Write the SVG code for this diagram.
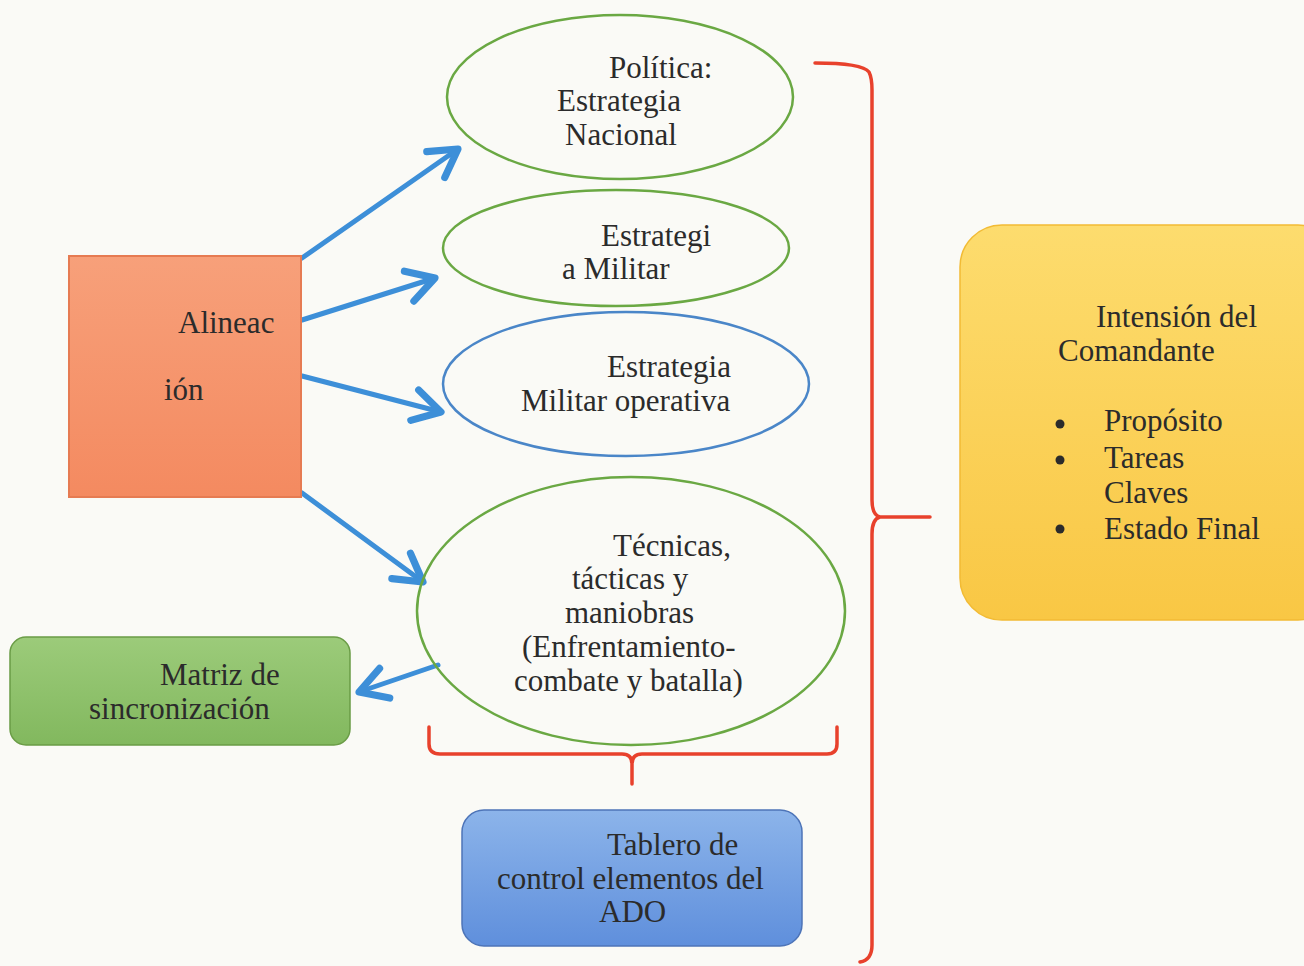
<svg xmlns="http://www.w3.org/2000/svg" width="1304" height="966" viewBox="0 0 1304 966">
<defs>
<style>
text{font-family:"Liberation Serif","Times New Roman",serif;font-size:31px;fill:#2b2b2b}
.conn{stroke:#3d8fd8;stroke-width:5;fill:none;stroke-linecap:round}
.brace{stroke:#e8412c;stroke-width:3.5;fill:none;stroke-linejoin:round;stroke-linecap:round}
</style>
<marker id="ah" markerUnits="userSpaceOnUse" markerWidth="40" markerHeight="40" viewBox="-22 -14 26 28" refX="0" refY="0" orient="auto">
<path d="M-19,-11 L0,0 L-19,11" fill="none" stroke="#3d8fd8" stroke-width="5" stroke-linecap="round" stroke-linejoin="round"/>
</marker>
<linearGradient id="gOr" x1="0" y1="0" x2="0" y2="1"><stop offset="0" stop-color="#f7a07a"/><stop offset="1" stop-color="#f48a60"/></linearGradient>
<linearGradient id="gGr" x1="0" y1="0" x2="0" y2="1"><stop offset="0" stop-color="#9ccb7a"/><stop offset="1" stop-color="#82b85e"/></linearGradient>
<linearGradient id="gBl" x1="0" y1="0" x2="0" y2="1"><stop offset="0" stop-color="#8cb4ea"/><stop offset="1" stop-color="#5f8fdc"/></linearGradient>
<linearGradient id="gYe" x1="0" y1="0" x2="0" y2="1"><stop offset="0" stop-color="#fddc6e"/><stop offset="1" stop-color="#f9c744"/></linearGradient>
</defs>
<rect x="0" y="0" width="1304" height="966" fill="#fafaf6"/>

<g id="connectors">
<line class="conn" x1="302" y1="258" x2="458" y2="149" marker-end="url(#ah)"/>
<line class="conn" x1="302" y1="320" x2="435" y2="278" marker-end="url(#ah)"/>
<line class="conn" x1="302" y1="376" x2="441" y2="412" marker-end="url(#ah)"/>
<line class="conn" x1="302" y1="493" x2="423" y2="582" marker-end="url(#ah)"/>
<line class="conn" x1="438" y1="665" x2="359" y2="692" marker-end="url(#ah)"/>
<path class="brace" d="M815,63 Q862,63 869,72 Q872,78 872,90 L872,500 Q872,515 880,517 L930,517 M880,517 Q872,519 872,534 L872,945 Q872,960 860,962"/>
<path class="brace" d="M429,727 L429,744 Q429,754 440,754 L622,754 Q632,754 632,764 L632,784 M632,764 Q632,754 642,754 L827,754 Q837,754 837,744 L837,727"/>
</g>

<g id="alineacion">
<rect x="69" y="256" width="232" height="241" fill="url(#gOr)" stroke="#e67b52" stroke-width="2"/>
<text x="178" y="333">Alineac</text>
<text x="164" y="400">ión</text>
</g>

<g id="politica">
<ellipse cx="620" cy="97" rx="173" ry="82" fill="none" stroke="#6aa843" stroke-width="2.5"/>
<text x="609" y="78">Política:</text>
<text x="557" y="111">Estrategia</text>
<text x="565" y="145">Nacional</text>
</g>

<g id="estrategia-militar">
<ellipse cx="616" cy="248" rx="173" ry="58" fill="none" stroke="#6aa843" stroke-width="2.5"/>
<text x="601" y="246">Estrategi</text>
<text x="562" y="279">a Militar</text>
</g>

<g id="militar-operativa">
<ellipse cx="626" cy="384" rx="183" ry="72" fill="none" stroke="#4a86c8" stroke-width="2.5"/>
<text x="607" y="377">Estrategia</text>
<text x="521" y="411">Militar operativa</text>
</g>

<g id="tecnicas">
<ellipse cx="631" cy="611" rx="214" ry="134" fill="none" stroke="#6aa843" stroke-width="2.5"/>
<text x="613" y="556">Técnicas,</text>
<text x="572" y="589">tácticas y</text>
<text x="565" y="623">maniobras</text>
<text x="522" y="657">(Enfrentamiento-</text>
<text x="514" y="691">combate y batalla)</text>
</g>

<g id="matriz">
<rect x="10" y="637" width="340" height="108" rx="16" fill="url(#gGr)" stroke="#6a9c46" stroke-width="1.5"/>
<text x="160" y="685">Matriz de</text>
<text x="89" y="719">sincronización</text>
</g>

<g id="tablero">
<rect x="462" y="810" width="340" height="136" rx="22" fill="url(#gBl)" stroke="#4d74b8" stroke-width="1.5"/>
<text x="607" y="855">Tablero de</text>
<text x="497" y="889">control elementos del</text>
<text x="599" y="922">ADO</text>
</g>

<g id="intension">
<rect x="960" y="225" width="380" height="395" rx="42" fill="url(#gYe)" stroke="#f2bb34" stroke-width="1.5"/>
<text x="1096" y="327">Intensión del</text>
<text x="1058" y="361">Comandante</text>
<circle cx="1060" cy="424" r="4.5" fill="#2b2b2b"/>
<circle cx="1060" cy="460" r="4.5" fill="#2b2b2b"/>
<circle cx="1060" cy="529" r="4.5" fill="#2b2b2b"/>
<text x="1104" y="431">Propósito</text>
<text x="1104" y="468">Tareas</text>
<text x="1104" y="503">Claves</text>
<text x="1104" y="539">Estado Final</text>
</g>
</svg>
